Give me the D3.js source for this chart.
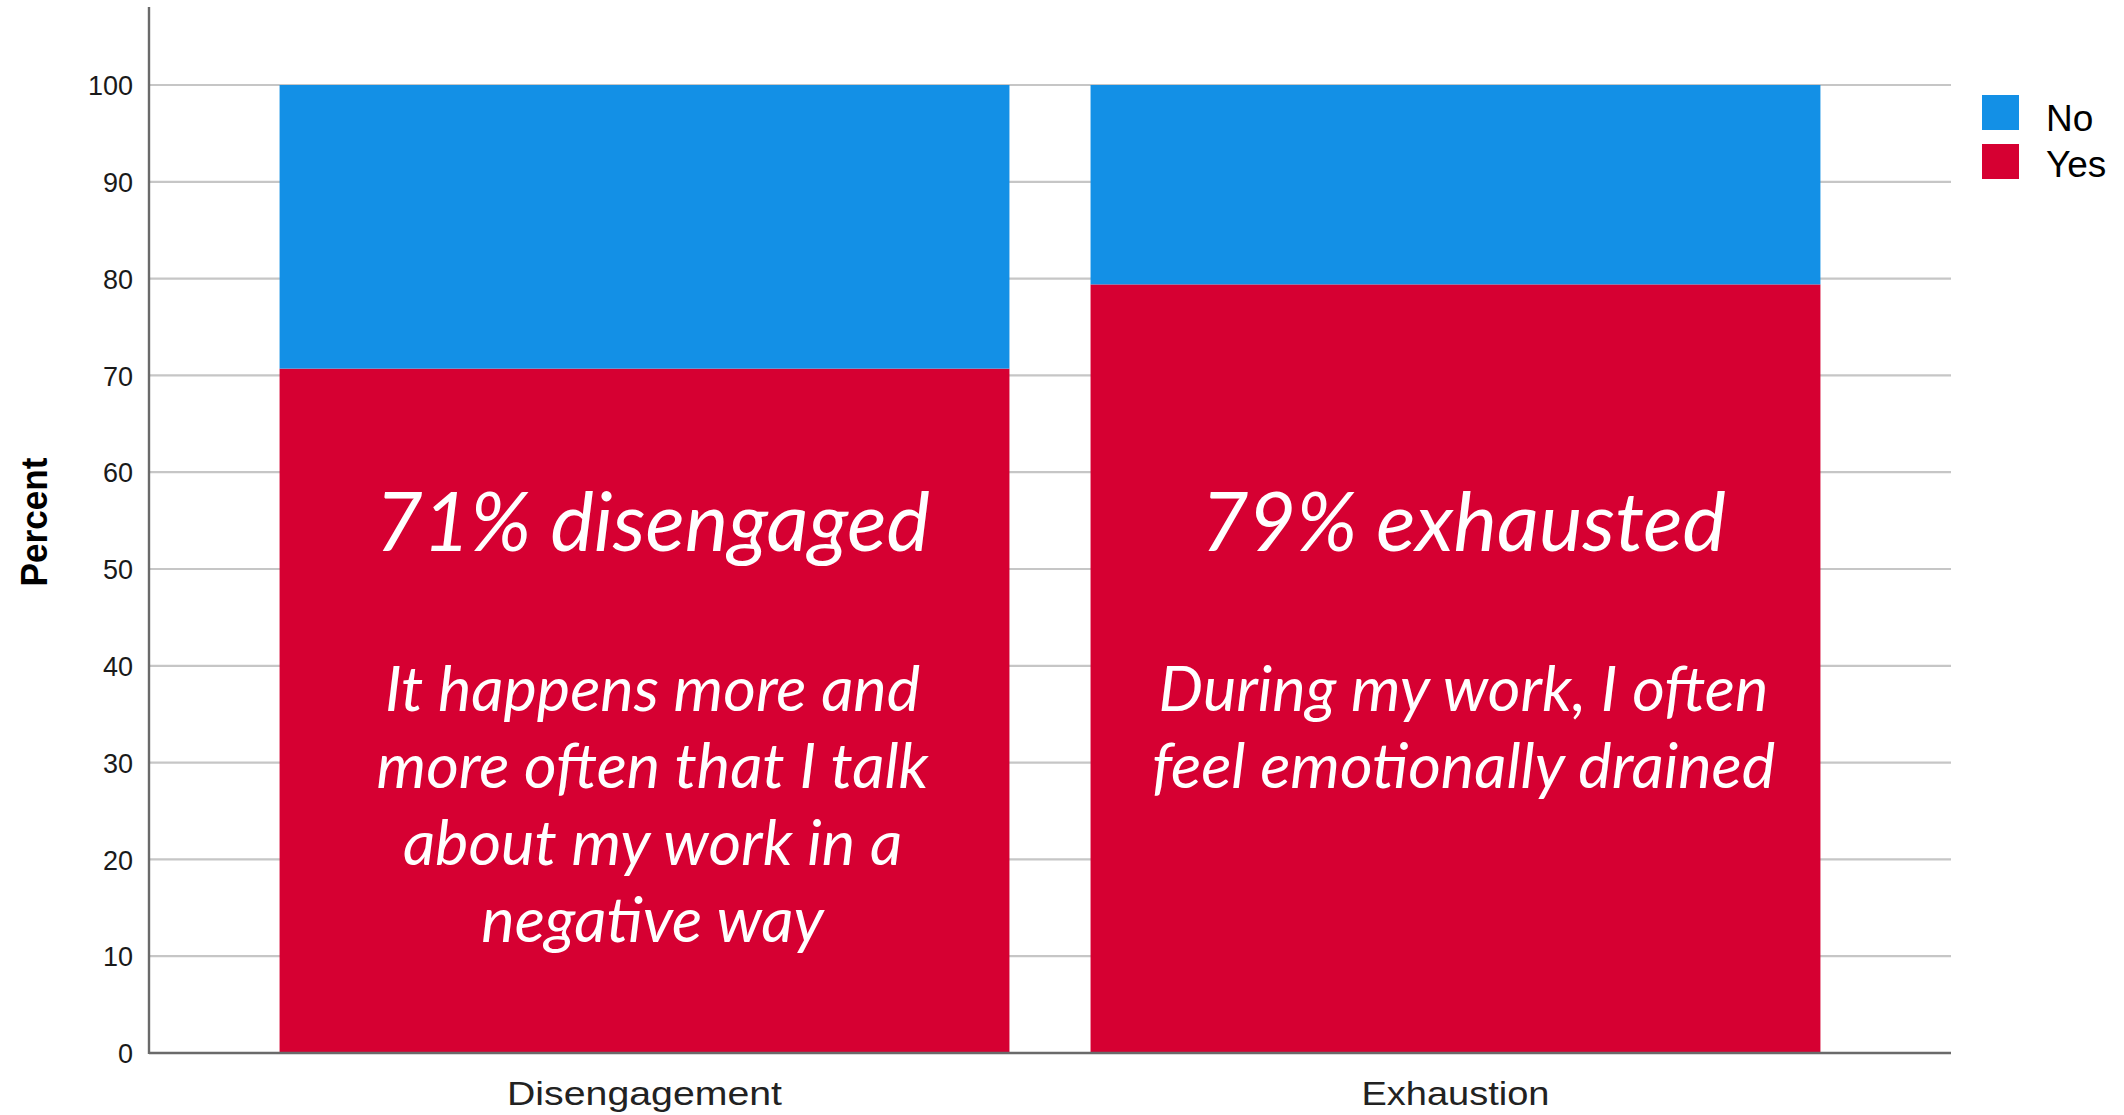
<!DOCTYPE html>
<html>
<head>
<meta charset="utf-8">
<script src="https://cdn.jsdelivr.net/npm/d3@7"></script>
<style>
  html, body { margin: 0; padding: 0; background: #ffffff; }
  svg { display: block; }
</style>
</head>
<body>
<svg id="chart" width="2124" height="1115"></svg>
<script>
// ---- data ----
const categories = ["Disengagement", "Exhaustion"];
const seriesNames = ["No", "Yes"];
const yesValues = [70.7, 79.4];
const noValues = [29.3, 20.6];
const yTicks = [0, 10, 20, 30, 40, 50, 60, 70, 80, 90, 100];
const headlines = ["71% disengaged", "79% exhausted"];
const bodyLines = [
  ["It happens more and", "more often that I talk", "about my work in a", "negative way"],
  ["During my work, I often", "feel emotionally drained"]
];
const colors = { "No": "#1390E6", "Yes": "#D60032" };

// ---- layout ----
const svg = d3.select("#chart");
const mLeft = 149, mRight = 1951, mTop = 85, mBottom = 1053;

const x = d3.scaleBand().domain(categories).range([mLeft, mRight])
  .paddingInner(0.1).paddingOuter(0.161);
const y = d3.scaleLinear().domain([0, 100]).range([mBottom, mTop]);

// gridlines
svg.append("g").selectAll("line").data(yTicks.filter(d => d > 0)).join("line")
  .attr("x1", mLeft).attr("x2", mRight)
  .attr("y1", d => y(d)).attr("y2", d => y(d))
  .attr("stroke", "#c6c6c6").attr("stroke-width", 2.2);

// stacked data
const rows = categories.map((c, i) => ({ cat: c, Yes: yesValues[i], No: noValues[i] }));
const stack = d3.stack().keys(["Yes", "No"])(rows);

svg.append("g").selectAll("g").data(stack).join("g")
  .attr("fill", d => colors[d.key])
  .selectAll("rect").data(d => d).join("rect")
  .attr("x", d => x(d.data.cat))
  .attr("width", x.bandwidth())
  .attr("y", d => y(d[1]))
  .attr("height", d => y(d[0]) - y(d[1]));

// axes
const yAxis = d3.axisLeft(y).tickValues(yTicks).tickSize(0).tickPadding(16);
const gy = svg.append("g").attr("transform", `translate(${mLeft},0)`).call(yAxis);
gy.select(".domain").remove();
gy.selectAll("text").attr("font-family", "'Liberation Sans', Arial, sans-serif")
  .attr("font-size", 27).attr("fill", "#1a1a1a").attr("dy", "0.36em");

svg.append("line").attr("x1", mLeft).attr("x2", mLeft).attr("y1", 7).attr("y2", mBottom + 1)
  .attr("stroke", "#6a6a6a").attr("stroke-width", 2.4);
svg.append("line").attr("x1", mLeft).attr("x2", mRight).attr("y1", mBottom).attr("y2", mBottom)
  .attr("stroke", "#6a6a6a").attr("stroke-width", 2.4);

const xAxis = d3.axisBottom(x).tickSize(0).tickPadding(0);
const gx = svg.append("g").attr("transform", `translate(0,${mBottom})`).call(xAxis);
gx.select(".domain").remove();
gx.selectAll("text")
  .attr("font-family", "'Liberation Sans', Arial, sans-serif")
  .attr("font-size", 34).attr("fill", "#222")
  .attr("y", 52).attr("dy", 0)
  .attr("textLength", 275).attr("lengthAdjust", "spacingAndGlyphs");
gx.selectAll(".tick").filter(d => d === "Exhaustion").select("text")
  .attr("textLength", 188);

// y title
svg.append("text")
  .attr("transform", "translate(47,522) rotate(-90)")
  .attr("text-anchor", "middle")
  .attr("font-family", "'Liberation Sans', Arial, sans-serif")
  .attr("font-weight", "bold").attr("font-size", 36).attr("fill", "#000")
  .attr("textLength", 129).attr("lengthAdjust", "spacingAndGlyphs")
  .text("Percent");

// annotations
const annFont = "Lato, 'Open Sans', sans-serif";
categories.forEach((c, i) => {
  const cx = x(c) + x.bandwidth() / 2 + 8;
  svg.append("text")
    .attr("x", cx).attr("y", 551)
    .attr("text-anchor", "middle")
    .attr("font-family", annFont).attr("font-style", "italic")
    .attr("font-size", 82).attr("fill", "#ffffff")
    .text(headlines[i]);
  bodyLines[i].forEach((line, j) => {
    svg.append("text")
      .attr("x", cx).attr("y", 711 + j * 77)
      .attr("text-anchor", "middle")
      .attr("font-family", annFont).attr("font-style", "italic")
      .attr("font-size", 63).attr("fill", "#ffffff")
      .text(line);
  });
});

// legend
const legend = svg.append("g");
seriesNames.forEach((s, i) => {
  legend.append("rect")
    .attr("x", 1982).attr("y", 95 + i * 49)
    .attr("width", 37).attr("height", 35)
    .attr("fill", colors[s]);
  legend.append("text")
    .attr("x", 2046).attr("y", 131 + i * 46)
    .attr("font-family", "'Liberation Sans', Arial, sans-serif")
    .attr("font-size", 37).attr("fill", "#000")
    .text(s);
});
</script>
</body>
</html>
